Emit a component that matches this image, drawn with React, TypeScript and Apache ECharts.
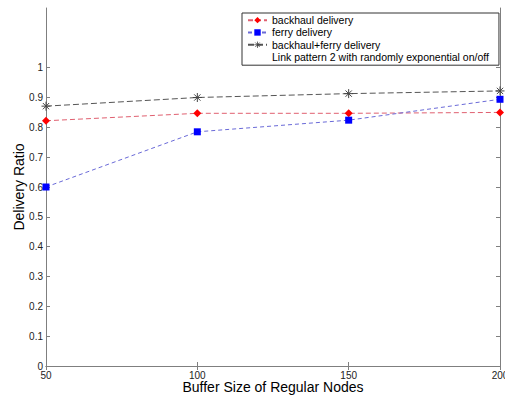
import React, { useEffect, useRef } from "react";
import * as echarts from "echarts";

const bufferSizes = [50, 100, 150, 200];
const backhaulDelivery = [0.822, 0.847, 0.847, 0.85];
const ferryDelivery = [0.6, 0.785, 0.824, 0.894];
const combinedDelivery = [0.871, 0.9, 0.913, 0.922];
const yTickValues = [0, 0.1, 0.2, 0.3, 0.4, 0.5, 0.6, 0.7, 0.8, 0.9, 1];
const xTickValues = [50, 100, 150, 200];
const seriesNames = [
  "backhaul delivery",
  "ferry delivery",
  "backhaul+ferry delivery",
  "Link pattern 2 with randomly exponential on/off",
];

const FONT = "Liberation Sans, Arial, sans-serif";
const ASTERISK = "path://M0,-10L0,10M-10,0L10,0M-7,-7L7,7M-7,7L7,-7";

export default function App() {
  const ref = useRef<HTMLDivElement>(null);
  useEffect(() => {
    if (!ref.current) return;
    const chart = echarts.init(ref.current, null, { renderer: "svg" });
    const pair = (ys: number[]) => bufferSizes.map((x, i) => [x, ys[i]]);
    const axisLineStyle = { color: "#7f7f7f", width: 1 };
    const asteriskStyle = { color: "none", borderColor: "#444", borderWidth: 1 };
    chart.setOption({
      animation: false,
      backgroundColor: "#fff",
      grid: { left: 46, right: 5, top: 8, bottom: 34, containLabel: false, outerBoundsMode: "none" },
      xAxis: [
        {
          type: "value",
          min: 50,
          max: 200,
          interval: 50,
          name: "Buffer Size of Regular Nodes",
          nameLocation: "middle",
          nameGap: 21,
          nameMoveOverlap: false,
          nameTextStyle: { fontFamily: FONT, fontSize: 14, color: "#000", verticalAlign: "middle" },
          axisLine: { show: true, lineStyle: axisLineStyle },
          axisTick: { show: true, inside: true, length: 4, lineStyle: axisLineStyle, customValues: xTickValues },
          axisLabel: { fontFamily: FONT, fontSize: 10, color: "#222", margin: 4, customValues: xTickValues },
          splitLine: { show: false },
        },
        {
          type: "value",
          position: "top",
          min: 50,
          max: 200,
          interval: 50,
          axisLine: { show: true, lineStyle: axisLineStyle },
          axisTick: { show: true, inside: true, length: 4, lineStyle: axisLineStyle, customValues: xTickValues },
          axisLabel: { show: false },
          splitLine: { show: false },
        },
      ],
      yAxis: [
        {
          type: "value",
          min: 0,
          max: 1.2,
          interval: 0.1,
          name: "Delivery Ratio",
          nameLocation: "middle",
          nameGap: 27,
          nameMoveOverlap: false,
          nameTextStyle: { fontFamily: FONT, fontSize: 14, color: "#000", verticalAlign: "middle" },
          axisLine: { show: true, lineStyle: axisLineStyle },
          axisTick: { show: true, inside: true, length: 4, lineStyle: axisLineStyle, customValues: yTickValues },
          axisLabel: {
            fontFamily: FONT,
            fontSize: 10,
            color: "#222",
            margin: 3,
            customValues: yTickValues,
            formatter: (v: number) => (Math.abs(v) < 1e-9 ? "0" : String(Math.round(v * 10) / 10)),
          },
          splitLine: { show: false },
        },
        {
          type: "value",
          position: "right",
          min: 0,
          max: 1.2,
          interval: 0.1,
          axisLine: { show: true, lineStyle: axisLineStyle },
          axisTick: { show: true, inside: true, length: 4, lineStyle: axisLineStyle, customValues: yTickValues },
          axisLabel: { show: false },
          splitLine: { show: false },
        },
      ],
      legend: {
        orient: "vertical",
        left: 242,
        top: 13,
        padding: [1, 10, 2, 5],
        itemGap: 0,
        itemWidth: 19,
        itemHeight: 8,
        borderColor: "#333",
        borderWidth: 1,
        backgroundColor: "#fff",
        textStyle: { fontFamily: FONT, fontSize: 10.5, color: "#000", lineHeight: 12.3 },
        data: [
          { name: seriesNames[0] },
          { name: seriesNames[1] },
          { name: seriesNames[2], itemStyle: { color: "none", borderColor: "#444", borderWidth: 0.8 } },
          { name: seriesNames[3], itemStyle: { opacity: 0 }, lineStyle: { opacity: 0 } },
        ],
      },
      series: [
        {
          name: seriesNames[0],
          type: "line",
          data: pair(backhaulDelivery),
          symbol: "diamond",
          symbolSize: 8,
          itemStyle: { color: "#ff0000" },
          lineStyle: { color: "#e06070", width: 1, type: [5, 3] },
          z: 3,
        },
        {
          name: seriesNames[1],
          type: "line",
          data: pair(ferryDelivery),
          symbol: "rect",
          symbolSize: 7,
          itemStyle: { color: "#0000ff" },
          lineStyle: { color: "#6a6ad8", width: 1, type: [4, 3] },
          z: 3,
        },
        {
          name: seriesNames[2],
          type: "line",
          data: pair(combinedDelivery),
          symbol: ASTERISK,
          symbolSize: 9,
          itemStyle: asteriskStyle,
          lineStyle: { color: "#555", width: 1, type: [6, 3] },
          z: 3,
        },
        {
          name: seriesNames[3],
          type: "line",
          data: [],
          symbol: "none",
          lineStyle: { opacity: 0 },
        },
      ],
    });
    return () => chart.dispose();
  }, []);
  return <div ref={ref} style={{ width: 505, height: 400, position: "absolute", left: 0, top: 0 }} />;
}
